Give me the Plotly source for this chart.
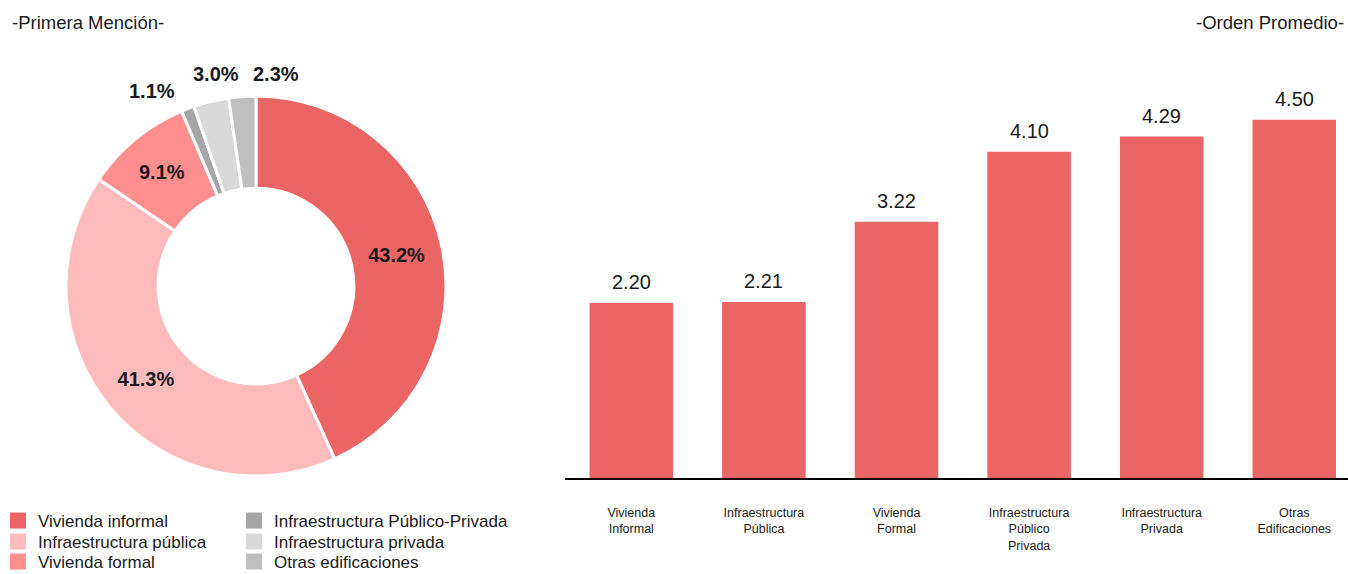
import plotly.graph_objects as go

# Primera mención (%)
pie_labels = ["Vivienda informal", "Infraestructura pública", "Vivienda formal",
              "Infraestructura Público-Privada", "Infraestructura privada", "Otras edificaciones"]
pie_values = [43.2, 41.3, 9.1, 1.1, 3.0, 2.3]
pie_colors = ["#EB6565", "#FFBBBB", "#FF8E8E", "#A6A6A6", "#D9D9D9", "#BFBFBF"]

# Orden promedio
bar_categories = ["Vivienda<br>Informal", "Infraestructura<br>Pública", "Vivienda<br>Formal",
                  "Infraestructura<br>Público<br>Privada", "Infraestructura<br>Privada",
                  "Otras<br>Edificaciones"]
bar_values = [2.20, 2.21, 3.22, 4.10, 4.29, 4.50]
bar_color = "#EB6565"

W, H = 1348, 574
FONT = "Liberation Sans, Arial, sans-serif"
TXT = "#1a1a1a"

fig = go.Figure()

# Donut: large slices labelled inside, thin ones labelled with annotations
small = [v < 5 for v in pie_values]
fig.add_trace(go.Pie(
    labels=pie_labels, values=pie_values, sort=False, direction="clockwise", rotation=0,
    hole=0.515,
    marker=dict(colors=pie_colors, line=dict(color="white", width=3)),
    texttemplate="<b>%{value:.1f}%</b>",
    textposition=["none" if s else "inside" for s in small],
    insidetextorientation="horizontal",
    insidetextfont=dict(family=FONT, size=20, color=TXT),
    domain=dict(x=[66 / W, 446 / W], y=[(H - 476) / H, (H - 96) / H]),
    showlegend=False, hoverinfo="label+value",
))

# Bars
x_idx = list(range(len(bar_values)))
fig.add_trace(go.Bar(
    x=x_idx, y=bar_values, marker=dict(color=bar_color, line=dict(width=0)),
    width=0.63, showlegend=False, xaxis="x", yaxis="y",
))

# Legend: one single-entry legend per slot, two columns of three rows
legend_names = ["legend", "legend2", "legend3", "legend4", "legend5", "legend6"]
legend_style = dict(orientation="v", bgcolor="rgba(0,0,0,0)", borderwidth=0,
                    font=dict(family=FONT, size=17, color=TXT),
                    xanchor="left", yanchor="middle", itemclick=False, itemdoubleclick=False)
col_x = [-2, 234]
row_y = [521, 542, 562]
legend_layout = {}
for i, (lab, col) in enumerate(zip(pie_labels, pie_colors)):
    lg = legend_names[i]
    fig.add_trace(go.Scatter(
        x=[None], y=[None], mode="markers", name=lab,
        marker=dict(symbol="square", size=16, color=col),
        legend=lg, xaxis="x", yaxis="y",
    ))
    legend_layout[lg] = dict(x=col_x[i // 3] / W, y=(H - row_y[i % 3]) / H, **legend_style)

annotations = []
# Value labels over bars
for xi, v in zip(x_idx, bar_values):
    annotations.append(dict(
        x=xi, y=v, xref="x", yref="y", text=f"{v:.2f}", showarrow=False,
        yanchor="bottom", yshift=8, font=dict(family=FONT, size=20, color=TXT)))

# Labels of the thin slices
small_pos = {3: (152, 91), 4: (216, 74), 5: (276, 74)}
for i, (px, py) in small_pos.items():
    annotations.append(dict(
        x=px / W, y=(H - py) / H, xref="paper", yref="paper",
        text=f"<b>{pie_values[i]:.1f}%</b>", showarrow=False,
        xanchor="center", yanchor="middle", font=dict(family=FONT, size=20, color=TXT)))

# Panel titles
annotations.append(dict(x=10 / W, y=(H - 22) / H, xref="paper", yref="paper",
                        text="-Primera Mención-", showarrow=False, xanchor="left",
                        yanchor="middle", font=dict(family=FONT, size=18.5, color=TXT)))
annotations.append(dict(x=1346 / W, y=(H - 22) / H, xref="paper", yref="paper",
                        text="-Orden Promedio-", showarrow=False, xanchor="right",
                        yanchor="middle", font=dict(family=FONT, size=18.5, color=TXT)))

fig.update_layout(
    width=W, height=H, margin=dict(l=0, r=0, t=0, b=0, autoexpand=False),
    paper_bgcolor="white", plot_bgcolor="white",
    font=dict(family=FONT, color=TXT),
    xaxis=dict(domain=[565 / W, 1.0], range=[-0.5, 5.405],
               tickmode="array", tickvals=x_idx, ticktext=bar_categories,
               tickfont=dict(family=FONT, size=12.5, color=TXT),
               showline=True, linecolor="black", linewidth=2, showgrid=False,
               zeroline=False, ticks="", ticklabelstandoff=22, fixedrange=True,
               automargin=False),
    yaxis=dict(domain=[(H - 478) / H, (H - 80) / H], range=[0, 5.0], visible=False,
               fixedrange=True),
    annotations=annotations,
    **legend_layout,
)

fig.write_html("out.html")
